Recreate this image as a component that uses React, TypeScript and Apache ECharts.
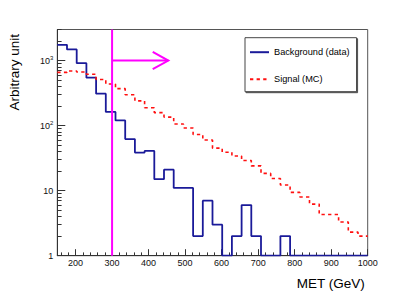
import React, { useEffect, useRef } from "react";
import * as echarts from "echarts";

// Histogram binning (x axis: MET in GeV)
const X_MIN = 150;
const X_MAX = 1000;
const N_BINS = 32;
const Y_MIN = 1;
const Y_MAX = 3000;

// Bin contents (0 = empty bin)
const background = [
  1746, 1480, 912, 545, 310, 162, 120, 62, 38.5, 40.8, 15, 21, 11, 11, 2, 7,
  3, 0, 2, 6, 2, 0, 0, 2, 0, 0, 0, 0, 0, 0, 0, 0,
];
const signal = [
  657, 692, 668, 615, 510, 436, 370, 298, 240, 188, 158, 135, 106, 92, 73, 60,
  45, 39, 34, 29, 24, 18.4, 15.4, 12.2, 9.4, 8.0, 6.2, 4.3, 4.3, 3.3, 2.3, 2.0,
];

const seriesNames = ["Background (data)", "Signal (MC)"];

const xMajorTicks = [200, 300, 400, 500, 600, 700, 800, 900, 1000];
const xMinorTicks = [
  160, 180, 220, 240, 260, 280, 320, 340, 360, 380, 420, 440, 460, 480, 520,
  540, 560, 580, 620, 640, 660, 680, 720, 740, 760, 780, 820, 840, 860, 880,
  920, 940, 960, 980,
];
const yMajorTicks = [1, 10, 100, 1000];
const yMinorTicks = [
  2, 3, 4, 5, 6, 7, 8, 9, 20, 30, 40, 50, 60, 70, 80, 90, 200, 300, 400, 500,
  600, 700, 800, 900, 2000, 3000,
];

// Selection cut: MET > 300 GeV, arrow drawn at y = 1000 up to x ~ 454
const cut = [[300, 1000, 454]];

const FONT = "'Liberation Sans', Arial, Helvetica, sans-serif";
const AXIS_COLOR = "#333";

function histPoints(vals: number[]) {
  const w = (X_MAX - X_MIN) / N_BINS;
  const pts: number[][] = vals.map((v, i) => [X_MIN + i * w, v > 0 ? v : Y_MIN]);
  const last = vals[vals.length - 1];
  pts.push([X_MAX, last > 0 ? last : Y_MIN]);
  return pts;
}

function yLabel(v: number) {
  if (v === 1) return "{b|1}";
  if (v === 10) return "{b|10}";
  const e = Math.round(Math.log10(v));
  return "{b|10}{s|" + e + "}";
}

export default function App() {
  const ref = useRef<HTMLDivElement>(null);
  useEffect(() => {
    if (!ref.current) return;
    const chart = echarts.init(ref.current, undefined, { renderer: "svg" });
    const option: any = {
      animation: false,
      backgroundColor: "#fff",
      textStyle: { fontFamily: FONT },
      grid: {
        left: 57.3,
        top: 29.5,
        width: 310.4,
        height: 226.2,
        show: true,
        borderColor: "#555",
        borderWidth: 1,
        backgroundColor: "transparent",
      },
      legend: {
        data: seriesNames,
        orient: "vertical",
        left: 245,
        top: 37.7,
        itemWidth: 19,
        itemHeight: 10,
        itemGap: 18,
        padding: [10, 7, 8, 4],
        borderColor: "#444",
        borderWidth: 1,
        backgroundColor: "#fff",
        shadowColor: "#555",
        shadowOffsetX: 1,
        shadowOffsetY: 1,
        shadowBlur: 0.01,
        selectedMode: false,
        itemStyle: { opacity: 0 },
        textStyle: { fontSize: 9.2, color: "#000", fontFamily: FONT },
      },
      xAxis: [
        {
          type: "value",
          position: "bottom",
          min: X_MIN,
          max: X_MAX,
          axisLine: { show: true, lineStyle: { color: AXIS_COLOR, width: 1 } },
          axisTick: {
            show: true,
            inside: true,
            length: 6.5,
            customValues: xMajorTicks,
            lineStyle: { color: AXIS_COLOR },
          },
          axisLabel: {
            customValues: xMajorTicks,
            formatter: (v: number) => String(v),
            fontSize: 9,
            margin: 2.5,
            color: "#111",
            fontFamily: FONT,
          },
          splitLine: { show: false },
        },
        {
          type: "value",
          position: "bottom",
          min: X_MIN,
          max: X_MAX,
          axisLine: { show: false },
          axisTick: {
            show: true,
            inside: true,
            length: 3.3,
            customValues: xMinorTicks,
            lineStyle: { color: AXIS_COLOR },
          },
          axisLabel: { show: false },
          splitLine: { show: false },
        },
      ],
      yAxis: [
        {
          type: "log",
          logBase: 10,
          position: "left",
          min: Y_MIN,
          max: Y_MAX,
          axisLine: { show: true, lineStyle: { color: AXIS_COLOR, width: 1 } },
          axisTick: {
            show: true,
            inside: true,
            length: 8,
            customValues: yMajorTicks,
            lineStyle: { color: AXIS_COLOR },
          },
          axisLabel: {
            customValues: yMajorTicks,
            formatter: yLabel,
            margin: 4,
            color: "#111",
            rich: {
              b: { fontSize: 9, fontFamily: FONT, color: "#111" },
              s: {
                fontSize: 6,
                fontFamily: FONT,
                color: "#111",
                verticalAlign: "top",
                padding: [0, 0, 6, 0],
              },
            },
          },
          splitLine: { show: false },
        },
        {
          type: "log",
          logBase: 10,
          position: "left",
          min: Y_MIN,
          max: Y_MAX,
          axisLine: { show: false },
          axisTick: {
            show: true,
            inside: true,
            length: 4.3,
            customValues: yMinorTicks,
            lineStyle: { color: AXIS_COLOR },
          },
          axisLabel: { show: false },
          splitLine: { show: false },
        },
      ],
      graphic: [
        {
          type: "text",
          right: 409 - 365,
          top: 276,
          style: {
            text: "MET (GeV)",
            fontSize: 13.5,
            fontFamily: FONT,
            fill: "#000",
          },
        },
        {
          type: "text",
          x: 14.5,
          y: 34,
          rotation: Math.PI / 2,
          style: {
            text: "Arbitrary unit",
            fontSize: 13.5,
            fontFamily: FONT,
            fill: "#000",
            align: "right",
            verticalAlign: "middle",
          },
        },
      ],
      series: [
        {
          name: seriesNames[0],
          type: "line",
          step: "end",
          symbol: "none",
          data: histPoints(background),
          color: "#1a1a99",
          lineStyle: { color: "#1a1a99", width: 1.8 },
          z: 3,
        },
        {
          name: seriesNames[1],
          type: "line",
          step: "end",
          symbol: "none",
          data: histPoints(signal),
          color: "#ff1010",
          lineStyle: { color: "#ff1010", width: 1.6, type: [3.3, 3.3] },
          z: 3,
        },
        {
          name: "cut",
          type: "custom",
          data: cut,
          encode: { x: 0, y: 1 },
          z: 4,
          renderItem: (params: any, api: any) => {
            const xc = api.value(0);
            const ya = api.value(1);
            const xe = api.value(2);
            const bot = api.coord([xc, Y_MIN]);
            const top = api.coord([xc, Y_MAX]);
            const a0 = api.coord([xc, ya]);
            const a1 = api.coord([xe, ya]);
            const st = { stroke: "#ff00ff", lineWidth: 2, fill: "none" };
            return {
              type: "group",
              children: [
                {
                  type: "line",
                  shape: { x1: bot[0], y1: bot[1], x2: top[0], y2: top[1] },
                  style: st,
                },
                {
                  type: "line",
                  shape: { x1: a0[0], y1: a0[1], x2: a1[0], y2: a1[1] },
                  style: st,
                },
                {
                  type: "polyline",
                  shape: {
                    points: [
                      [a1[0] - 15.6, a1[1] - 8.7],
                      [a1[0], a1[1]],
                      [a1[0] - 15.6, a1[1] + 8.7],
                    ],
                  },
                  style: st,
                },
              ],
            };
          },
        },
      ],
    };
    chart.setOption(option);
    return () => chart.dispose();
  }, []);
  return (
    <div
      ref={ref}
      style={{
        position: "fixed",
        left: 0,
        top: 0,
        width: 409,
        height: 294,
        background: "#fff",
      }}
    />
  );
}
